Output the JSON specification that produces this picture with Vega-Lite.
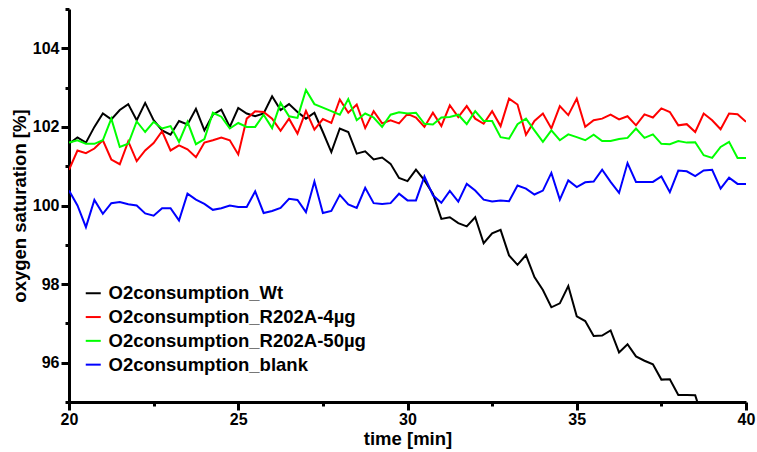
{
  "$schema": "https://vega.github.io/schema/vega-lite/v6.json",
  "width": 677,
  "height": 393,
  "autosize": "none",
  "padding": {"left": 69, "top": 9, "right": 11, "bottom": 50},
  "background": "white",
  "config": {
    "view": {"stroke": null},
    "font": "Liberation Sans",
    "axis": {
      "domainColor": "#000000",
      "domainWidth": 3,
      "tickColor": "#000000",
      "tickWidth": 3,
      "grid": false,
      "labelFont": "Liberation Sans",
      "labelFontWeight": "bold",
      "labelFontSize": 16,
      "labelColor": "#000000",
      "titleFont": "Liberation Sans",
      "titleFontWeight": "bold",
      "titleFontSize": 18.5,
      "titleColor": "#000000"
    }
  },
  "data": {
    "values": [
      {"t": 20, "O2consumption_Wt": 101.57, "O2consumption_R202A-4µg": 100.91, "O2consumption_R202A-50µg": 101.6, "O2consumption_blank": 100.38},
      {"t": 20.25, "O2consumption_Wt": 101.73, "O2consumption_R202A-4µg": 101.4, "O2consumption_R202A-50µg": 101.66, "O2consumption_blank": 100.0},
      {"t": 20.5, "O2consumption_Wt": 101.6, "O2consumption_R202A-4µg": 101.33, "O2consumption_R202A-50µg": 101.57, "O2consumption_blank": 99.45},
      {"t": 20.75, "O2consumption_Wt": 102.0, "O2consumption_R202A-4µg": 101.45, "O2consumption_R202A-50µg": 101.57, "O2consumption_blank": 100.14},
      {"t": 21, "O2consumption_Wt": 102.34, "O2consumption_R202A-4µg": 101.66, "O2consumption_R202A-50µg": 101.66, "O2consumption_blank": 99.79},
      {"t": 21.25, "O2consumption_Wt": 102.19, "O2consumption_R202A-4µg": 101.17, "O2consumption_R202A-50µg": 102.21, "O2consumption_blank": 100.06},
      {"t": 21.5, "O2consumption_Wt": 102.43, "O2consumption_R202A-4µg": 101.05, "O2consumption_R202A-50µg": 101.49, "O2consumption_blank": 100.09},
      {"t": 21.75, "O2consumption_Wt": 102.58, "O2consumption_R202A-4µg": 101.63, "O2consumption_R202A-50µg": 101.57, "O2consumption_blank": 100.03},
      {"t": 22, "O2consumption_Wt": 102.17, "O2consumption_R202A-4µg": 101.13, "O2consumption_R202A-50µg": 102.14, "O2consumption_blank": 100.0},
      {"t": 22.25, "O2consumption_Wt": 102.61, "O2consumption_R202A-4µg": 101.4, "O2consumption_R202A-50µg": 101.87, "O2consumption_blank": 99.8},
      {"t": 22.5, "O2consumption_Wt": 102.17, "O2consumption_R202A-4µg": 101.59, "O2consumption_R202A-50µg": 102.13, "O2consumption_blank": 99.74},
      {"t": 22.75, "O2consumption_Wt": 101.91, "O2consumption_R202A-4µg": 101.89, "O2consumption_R202A-50µg": 101.96, "O2consumption_blank": 99.93},
      {"t": 23, "O2consumption_Wt": 101.8, "O2consumption_R202A-4µg": 101.4, "O2consumption_R202A-50µg": 102.02, "O2consumption_blank": 99.93},
      {"t": 23.25, "O2consumption_Wt": 102.15, "O2consumption_R202A-4µg": 101.53, "O2consumption_R202A-50µg": 101.62, "O2consumption_blank": 99.62},
      {"t": 23.5, "O2consumption_Wt": 102.06, "O2consumption_R202A-4µg": 101.43, "O2consumption_R202A-50µg": 102.13, "O2consumption_blank": 100.3},
      {"t": 23.75, "O2consumption_Wt": 102.46, "O2consumption_R202A-4µg": 101.23, "O2consumption_R202A-50µg": 101.56, "O2consumption_blank": 100.15},
      {"t": 24, "O2consumption_Wt": 101.91, "O2consumption_R202A-4µg": 101.6, "O2consumption_R202A-50µg": 101.69, "O2consumption_blank": 100.04},
      {"t": 24.25, "O2consumption_Wt": 102.31, "O2consumption_R202A-4µg": 101.66, "O2consumption_R202A-50µg": 102.36, "O2consumption_blank": 99.89},
      {"t": 24.5, "O2consumption_Wt": 102.44, "O2consumption_R202A-4µg": 101.73, "O2consumption_R202A-50µg": 102.26, "O2consumption_blank": 99.93},
      {"t": 24.75, "O2consumption_Wt": 102.0, "O2consumption_R202A-4µg": 101.66, "O2consumption_R202A-50µg": 101.96, "O2consumption_blank": 100.0},
      {"t": 25, "O2consumption_Wt": 102.48, "O2consumption_R202A-4µg": 101.3, "O2consumption_R202A-50µg": 102.1, "O2consumption_blank": 99.96},
      {"t": 25.25, "O2consumption_Wt": 102.34, "O2consumption_R202A-4µg": 102.21, "O2consumption_R202A-50µg": 102.0, "O2consumption_blank": 99.96},
      {"t": 25.5, "O2consumption_Wt": 102.27, "O2consumption_R202A-4µg": 102.4, "O2consumption_R202A-50µg": 102.0, "O2consumption_blank": 100.36},
      {"t": 25.75, "O2consumption_Wt": 102.34, "O2consumption_R202A-4µg": 102.38, "O2consumption_R202A-50µg": 102.31, "O2consumption_blank": 99.81},
      {"t": 26, "O2consumption_Wt": 102.78, "O2consumption_R202A-4µg": 102.21, "O2consumption_R202A-50µg": 101.97, "O2consumption_blank": 99.86},
      {"t": 26.25, "O2consumption_Wt": 102.43, "O2consumption_R202A-4µg": 101.9, "O2consumption_R202A-50µg": 102.61, "O2consumption_blank": 99.94},
      {"t": 26.5, "O2consumption_Wt": 102.58, "O2consumption_R202A-4µg": 102.21, "O2consumption_R202A-50µg": 102.27, "O2consumption_blank": 100.17},
      {"t": 26.75, "O2consumption_Wt": 102.38, "O2consumption_R202A-4µg": 101.83, "O2consumption_R202A-50µg": 102.23, "O2consumption_blank": 100.14},
      {"t": 27, "O2consumption_Wt": 102.21, "O2consumption_R202A-4µg": 102.41, "O2consumption_R202A-50µg": 102.94, "O2consumption_blank": 99.83},
      {"t": 27.25, "O2consumption_Wt": 102.36, "O2consumption_R202A-4µg": 101.93, "O2consumption_R202A-50µg": 102.58, "O2consumption_blank": 100.61},
      {"t": 27.5, "O2consumption_Wt": 101.87, "O2consumption_R202A-4µg": 102.2, "O2consumption_R202A-50µg": 102.49, "O2consumption_blank": 99.81},
      {"t": 27.75, "O2consumption_Wt": 101.36, "O2consumption_R202A-4µg": 102.1, "O2consumption_R202A-50µg": 102.4, "O2consumption_blank": 99.86},
      {"t": 28, "O2consumption_Wt": 101.96, "O2consumption_R202A-4µg": 102.7, "O2consumption_R202A-50µg": 102.31, "O2consumption_blank": 100.27},
      {"t": 28.25, "O2consumption_Wt": 101.87, "O2consumption_R202A-4µg": 102.36, "O2consumption_R202A-50µg": 102.71, "O2consumption_blank": 100.03},
      {"t": 28.5, "O2consumption_Wt": 101.32, "O2consumption_R202A-4µg": 102.57, "O2consumption_R202A-50µg": 102.17, "O2consumption_blank": 99.94},
      {"t": 28.75, "O2consumption_Wt": 101.38, "O2consumption_R202A-4µg": 101.97, "O2consumption_R202A-50µg": 102.34, "O2consumption_blank": 100.45},
      {"t": 29, "O2consumption_Wt": 101.17, "O2consumption_R202A-4µg": 102.4, "O2consumption_R202A-50µg": 102.24, "O2consumption_blank": 100.06},
      {"t": 29.25, "O2consumption_Wt": 101.22, "O2consumption_R202A-4µg": 102.09, "O2consumption_R202A-50µg": 102.0, "O2consumption_blank": 100.04},
      {"t": 29.5, "O2consumption_Wt": 101.06, "O2consumption_R202A-4µg": 102.17, "O2consumption_R202A-50µg": 102.31, "O2consumption_blank": 100.06},
      {"t": 29.75, "O2consumption_Wt": 100.7, "O2consumption_R202A-4µg": 102.09, "O2consumption_R202A-50µg": 102.37, "O2consumption_blank": 100.3},
      {"t": 30, "O2consumption_Wt": 100.62, "O2consumption_R202A-4µg": 102.33, "O2consumption_R202A-50µg": 102.34, "O2consumption_blank": 100.13},
      {"t": 30.25, "O2consumption_Wt": 100.91, "O2consumption_R202A-4µg": 102.24, "O2consumption_R202A-50µg": 102.36, "O2consumption_blank": 100.13},
      {"t": 30.5, "O2consumption_Wt": 100.64, "O2consumption_R202A-4µg": 102.0, "O2consumption_R202A-50µg": 102.08, "O2consumption_blank": 100.74},
      {"t": 30.75, "O2consumption_Wt": 100.3, "O2consumption_R202A-4µg": 102.36, "O2consumption_R202A-50µg": 102.06, "O2consumption_blank": 100.26},
      {"t": 31, "O2consumption_Wt": 99.66, "O2consumption_R202A-4µg": 102.02, "O2consumption_R202A-50µg": 102.24, "O2consumption_blank": 100.07},
      {"t": 31.25, "O2consumption_Wt": 99.7, "O2consumption_R202A-4µg": 102.55, "O2consumption_R202A-50µg": 102.25, "O2consumption_blank": 100.37},
      {"t": 31.5, "O2consumption_Wt": 99.55, "O2consumption_R202A-4µg": 102.25, "O2consumption_R202A-50µg": 102.31, "O2consumption_blank": 100.1},
      {"t": 31.75, "O2consumption_Wt": 99.47, "O2consumption_R202A-4µg": 102.53, "O2consumption_R202A-50µg": 102.07, "O2consumption_blank": 100.55},
      {"t": 32, "O2consumption_Wt": 99.7, "O2consumption_R202A-4µg": 102.21, "O2consumption_R202A-50µg": 102.4, "O2consumption_blank": 100.38},
      {"t": 32.25, "O2consumption_Wt": 99.04, "O2consumption_R202A-4µg": 102.08, "O2consumption_R202A-50µg": 102.15, "O2consumption_blank": 100.15},
      {"t": 32.5, "O2consumption_Wt": 99.29, "O2consumption_R202A-4µg": 102.4, "O2consumption_R202A-50µg": 102.15, "O2consumption_blank": 100.1},
      {"t": 32.75, "O2consumption_Wt": 99.38, "O2consumption_R202A-4µg": 102.02, "O2consumption_R202A-50µg": 101.74, "O2consumption_blank": 100.13},
      {"t": 33, "O2consumption_Wt": 98.73, "O2consumption_R202A-4µg": 102.72, "O2consumption_R202A-50µg": 101.7, "O2consumption_blank": 100.11},
      {"t": 33.25, "O2consumption_Wt": 98.49, "O2consumption_R202A-4µg": 102.57, "O2consumption_R202A-50µg": 102.07, "O2consumption_blank": 100.51},
      {"t": 33.5, "O2consumption_Wt": 98.74, "O2consumption_R202A-4µg": 101.8, "O2consumption_R202A-50µg": 102.21, "O2consumption_blank": 100.43},
      {"t": 33.75, "O2consumption_Wt": 98.18, "O2consumption_R202A-4µg": 102.15, "O2consumption_R202A-50µg": 101.91, "O2consumption_blank": 100.28},
      {"t": 34, "O2consumption_Wt": 97.85, "O2consumption_R202A-4µg": 102.34, "O2consumption_R202A-50µg": 101.62, "O2consumption_blank": 100.38},
      {"t": 34.25, "O2consumption_Wt": 97.41, "O2consumption_R202A-4µg": 101.96, "O2consumption_R202A-50µg": 101.91, "O2consumption_blank": 100.83},
      {"t": 34.5, "O2consumption_Wt": 97.51, "O2consumption_R202A-4µg": 102.53, "O2consumption_R202A-50µg": 101.66, "O2consumption_blank": 100.15},
      {"t": 34.75, "O2consumption_Wt": 97.95, "O2consumption_R202A-4µg": 102.3, "O2consumption_R202A-50µg": 101.81, "O2consumption_blank": 100.64},
      {"t": 35, "O2consumption_Wt": 97.18, "O2consumption_R202A-4µg": 102.72, "O2consumption_R202A-50µg": 101.74, "O2consumption_blank": 100.47},
      {"t": 35.25, "O2consumption_Wt": 97.06, "O2consumption_R202A-4µg": 102.0, "O2consumption_R202A-50µg": 101.66, "O2consumption_blank": 100.59},
      {"t": 35.5, "O2consumption_Wt": 96.68, "O2consumption_R202A-4µg": 102.17, "O2consumption_R202A-50µg": 101.8, "O2consumption_blank": 100.61},
      {"t": 35.75, "O2consumption_Wt": 96.69, "O2consumption_R202A-4µg": 102.21, "O2consumption_R202A-50µg": 101.64, "O2consumption_blank": 100.91},
      {"t": 36, "O2consumption_Wt": 96.82, "O2consumption_R202A-4µg": 102.31, "O2consumption_R202A-50µg": 101.64, "O2consumption_blank": 100.6},
      {"t": 36.25, "O2consumption_Wt": 96.26, "O2consumption_R202A-4µg": 102.19, "O2consumption_R202A-50µg": 101.69, "O2consumption_blank": 100.32},
      {"t": 36.5, "O2consumption_Wt": 96.47, "O2consumption_R202A-4µg": 102.27, "O2consumption_R202A-50µg": 101.72, "O2consumption_blank": 101.08},
      {"t": 36.75, "O2consumption_Wt": 96.16, "O2consumption_R202A-4µg": 102.04, "O2consumption_R202A-50µg": 101.96, "O2consumption_blank": 100.6},
      {"t": 37, "O2consumption_Wt": 96.05, "O2consumption_R202A-4µg": 102.32, "O2consumption_R202A-50µg": 101.72, "O2consumption_blank": 100.6},
      {"t": 37.25, "O2consumption_Wt": 95.96, "O2consumption_R202A-4µg": 102.24, "O2consumption_R202A-50µg": 101.81, "O2consumption_blank": 100.6},
      {"t": 37.5, "O2consumption_Wt": 95.57, "O2consumption_R202A-4µg": 102.47, "O2consumption_R202A-50µg": 101.57, "O2consumption_blank": 100.74},
      {"t": 37.75, "O2consumption_Wt": 95.58, "O2consumption_R202A-4µg": 102.38, "O2consumption_R202A-50µg": 101.56, "O2consumption_blank": 100.34},
      {"t": 38, "O2consumption_Wt": 95.18, "O2consumption_R202A-4µg": 102.04, "O2consumption_R202A-50µg": 101.64, "O2consumption_blank": 100.89},
      {"t": 38.25, "O2consumption_Wt": 95.18, "O2consumption_R202A-4µg": 102.07, "O2consumption_R202A-50µg": 101.6, "O2consumption_blank": 100.87},
      {"t": 38.5, "O2consumption_Wt": 95.17, "O2consumption_R202A-4µg": 101.87, "O2consumption_R202A-50µg": 101.61, "O2consumption_blank": 100.75},
      {"t": 38.75, "O2consumption_Wt": 94.5, "O2consumption_R202A-4µg": 102.34, "O2consumption_R202A-50µg": 101.28, "O2consumption_blank": 100.89},
      {"t": 39, "O2consumption_R202A-4µg": 102.17, "O2consumption_R202A-50µg": 101.21, "O2consumption_blank": 100.91},
      {"t": 39.25, "O2consumption_R202A-4µg": 101.94, "O2consumption_R202A-50µg": 101.49, "O2consumption_blank": 100.43},
      {"t": 39.5, "O2consumption_R202A-4µg": 102.34, "O2consumption_R202A-50µg": 101.62, "O2consumption_blank": 100.71},
      {"t": 39.75, "O2consumption_R202A-4µg": 102.32, "O2consumption_R202A-50µg": 101.21, "O2consumption_blank": 100.55},
      {"t": 40, "O2consumption_R202A-4µg": 102.13, "O2consumption_R202A-50µg": 101.21, "O2consumption_blank": 100.55}
    ]
  },
  "transform": [
    {"fold": ["O2consumption_Wt", "O2consumption_R202A-4µg", "O2consumption_R202A-50µg", "O2consumption_blank"], "as": ["series", "v"]},
    {"filter": "isValid(datum.v)"}
  ],
  "mark": {"type": "line", "strokeWidth": 2, "clip": true},
  "encoding": {
    "x": {
      "field": "t",
      "type": "quantitative",
      "scale": {"domain": [20, 40], "nice": false},
      "axis": {
        "title": "time [min]",
        "values": [20, 22.5, 25, 27.5, 30, 32.5, 35, 37.5, 40],
        "labelExpr": "datum.value % 5 == 0 ? datum.label : ''",
        "tickSize": {"condition": {"test": "datum.value % 5 == 0", "value": 8}, "value": 4},
        "labelPadding": 1,
        "titlePadding": 2,
        "labelFlush": false
      }
    },
    "y": {
      "field": "v",
      "type": "quantitative",
      "scale": {"domain": [95, 105], "nice": false, "zero": false},
      "axis": {
        "title": "oxygen saturation [%]",
        "values": [95, 96, 97, 98, 99, 100, 101, 102, 103, 104, 105],
        "labelExpr": "datum.value % 2 == 0 ? datum.label : ''",
        "tickSize": {"condition": {"test": "datum.value % 2 == 0", "value": 8}, "value": 4},
        "labelPadding": 2,
        "titlePadding": 3,
        "labelFlush": false
      }
    },
    "color": {
      "field": "series",
      "type": "nominal",
      "scale": {
        "domain": ["O2consumption_Wt", "O2consumption_R202A-4µg", "O2consumption_R202A-50µg", "O2consumption_blank"],
        "range": ["#000000", "#ff0000", "#00ff00", "#0000ff"]
      },
      "legend": {
        "title": null,
        "orient": "none",
        "legendX": 15,
        "legendY": 275,
        "padding": 0,
        "symbolType": "stroke",
        "symbolSize": 225,
        "symbolStrokeWidth": 2,
        "labelFont": "Liberation Sans",
        "labelFontWeight": "bold",
        "labelFontSize": 18.5,
        "labelColor": "#000000",
        "labelOffset": 6,
        "rowPadding": 4.8,
        "labelLimit": 400
      }
    }
  }
}
